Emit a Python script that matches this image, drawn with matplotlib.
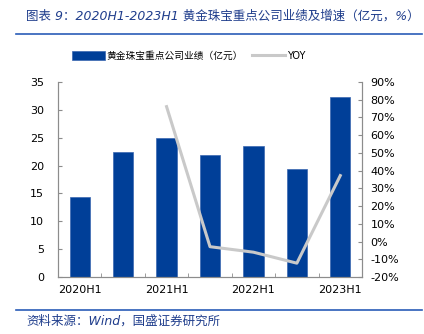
import numpy as np
import matplotlib
matplotlib.use('Agg')
import matplotlib.pyplot as plt
from matplotlib.lines import Line2D

plt.rcParams['font.family'] = ['DejaVu Sans', 'Noto Sans CJK SC']

# data
periods = ['2020H1', '2020H2', '2021H1', '2021H2', '2022H1', '2022H2', '2023H1']
profit = [14.3, 22.5, 25.0, 21.9, 23.6, 19.3, 32.3]          # 亿元
yoy = [None, None, 76.1, -2.9, -6.0, -12.2, 37.2]             # %

bar_color = '#003f98'
line_color = '#c9c9c9'
text_blue = '#1f3d8c'
spine_color = '#8c8c8c'

fig = plt.figure(figsize=(4.24, 3.34), dpi=100)
ax = fig.add_axes([58/424, 1-277/334, 304/424, 195/334])
ax2 = ax.twinx()

x = np.arange(len(periods))
ax.bar(x, profit, width=0.47, color=bar_color, edgecolor='#3a66b0', linewidth=0.5,
       label='黄金珠宝重点公司业绩（亿元）', zorder=2)

yx = [i for i, v in enumerate(yoy) if v is not None]
yv = [v for v in yoy if v is not None]
ax2.plot(yx, yv, color=line_color, linewidth=2.2, label='YOY', zorder=3)

ax.set_xlim(-0.5, len(periods) - 0.5)
ax.set_ylim(0, 35)
ax.set_yticks(np.arange(0, 36, 5))
ax2.set_ylim(-20, 90)
ax2.set_yticks(np.arange(-20, 91, 10))
ax2.set_yticklabels([f'{v}%' for v in range(-20, 91, 10)])

ax.set_xticks(x[::2])
ax.set_xticklabels(periods[::2])
ax.set_xticks(np.arange(0.5, len(periods) - 1, 1), minor=True)
ax.tick_params(axis='x', which='major', length=0, labelsize=8, pad=6)
ax.tick_params(axis='x', which='minor', direction='in', length=3, color=spine_color)
ax.tick_params(axis='y', direction='in', length=3, color=spine_color, labelsize=8, pad=10)
ax2.tick_params(axis='y', direction='in', length=3, color=spine_color, labelsize=8, pad=6)

for a in (ax, ax2):
    a.spines['top'].set_visible(False)
    for s in ('left', 'right', 'bottom'):
        a.spines[s].set_color(spine_color)
        a.spines[s].set_linewidth(0.8)
ax2.set_zorder(ax.get_zorder() + 1)

h1, l1 = ax.get_legend_handles_labels()
h2, l2 = ax2.get_legend_handles_labels()
fig.legend(h1 + h2, l1 + l2, loc='center', bbox_to_anchor=(0.445, 1 - 56/334), ncol=2,
           frameon=False, fontsize=7, handlelength=3.4, handleheight=1.1,
           handletextpad=0.2, columnspacing=0.9)

# title and source
fig.text(26/424, 1 - 16/334, '图表 9：2020H1-2023H1 黄金珠宝重点公司业绩及增速（亿元，%）',
         color=text_blue, fontsize=9.0, style='italic', va='center', ha='left')
fig.text(26/424, 1 - 321/334, '资料来源：Wind，国盛证券研究所',
         color=text_blue, fontsize=9, style='italic', va='center', ha='left')
for yy in (34, 310):
    fig.add_artist(Line2D([16/424, 422/424], [1 - yy/334, 1 - yy/334],
                          color='#2a5cb8', linewidth=1.2))

fig.savefig('out.png', dpi=100)
